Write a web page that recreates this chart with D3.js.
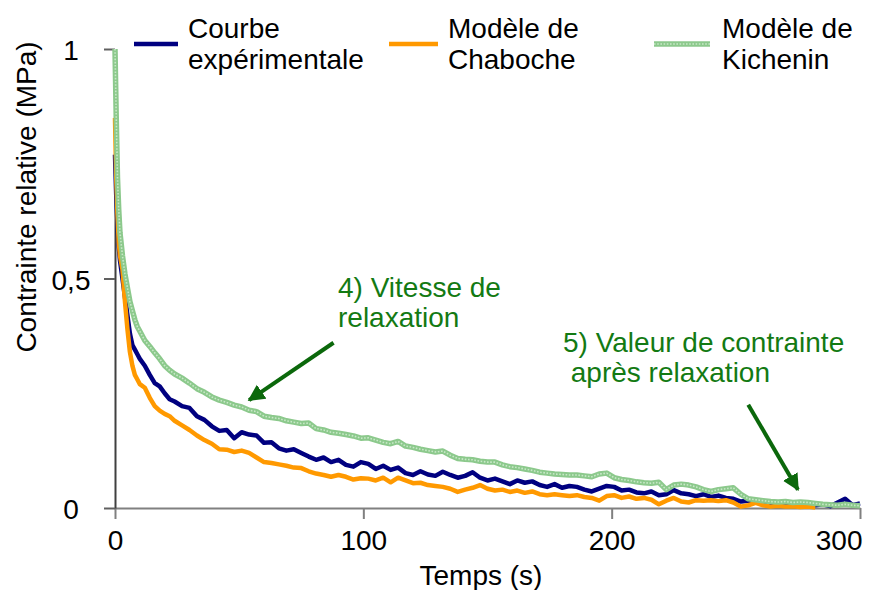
<!DOCTYPE html>
<html>
<head>
<meta charset="utf-8">
<script src="https://cdn.jsdelivr.net/npm/d3@7"></script>
<style>
  html, body { margin: 0; padding: 0; background: #fff; }
  svg { display: block; font-family: "Liberation Sans", Arial, sans-serif; }
</style>
</head>
<body>
<svg id="chart" width="877" height="590"></svg>
<script>
// Relaxation test: relative stress versus time, measured curve and two models
const times = [0, 0.5, 1, 1.5, 2, 3, 4, 5, 6, 7, 8, 9, 10, 12, 14, 16, 18, 20, 22, 24,
  27, 30, 33, 36, 39, 42, 45, 48, 51, 54, 57, 60, 63, 66, 69, 72, 75, 78, 81, 84,
  87, 90, 93, 96, 99, 102, 105, 108, 111, 114, 117, 120, 123, 126, 129, 132, 135, 138, 141, 144,
  147, 150, 153, 156, 159, 162, 165, 168, 171, 174, 177, 180, 183, 186, 189, 192, 195, 198, 201, 204,
  207, 210, 213, 216, 219, 222, 225, 228, 231, 234, 237, 240, 243, 246, 249, 252, 255, 258, 261, 264,
  267, 270, 273, 276, 279, 282, 285, 288, 291, 294, 297, 300];

const experimental = [0.77, 0.68, 0.62, 0.57, 0.54, 0.50, 0.46, 0.42, 0.38, 0.355, 0.345, 0.335, 0.325, 0.31, 0.29, 0.272, 0.265, 0.25, 0.237, 0.232,
  0.222, 0.218, 0.20, 0.192, 0.178, 0.168, 0.17, 0.152, 0.165, 0.16, 0.158, 0.142, 0.143, 0.13, 0.125, 0.128, 0.12, 0.112, 0.105, 0.11,
  0.10, 0.105, 0.094, 0.09, 0.10, 0.096, 0.085, 0.092, 0.083, 0.088, 0.076, 0.072, 0.08, 0.073, 0.07, 0.079, 0.072, 0.066, 0.07, 0.078,
  0.066, 0.06, 0.064, 0.058, 0.052, 0.06, 0.055, 0.058, 0.05, 0.046, 0.052, 0.044, 0.048, 0.046, 0.04, 0.036, 0.042, 0.048, 0.046, 0.038,
  0.04, 0.034, 0.032, 0.036, 0.028, 0.03, 0.039, 0.032, 0.03, 0.026, 0.03, 0.024, 0.027, 0.022, 0.02, 0.014, 0.016, 0.012, 0.014, 0.01,
  0.012, 0.008, 0.012, 0.01, 0.009, 0.006, 0.008, 0.004, 0.012, 0.02, 0.006, 0.01];

const chaboche = [0.85, 0.72, 0.64, 0.58, 0.55, 0.52, 0.45, 0.39, 0.34, 0.31, 0.29, 0.28, 0.27, 0.262, 0.24, 0.222, 0.212, 0.205, 0.20, 0.19,
  0.18, 0.17, 0.158, 0.148, 0.14, 0.128, 0.127, 0.122, 0.125, 0.12, 0.11, 0.10, 0.098, 0.095, 0.092, 0.088, 0.087, 0.08, 0.075, 0.072,
  0.068, 0.072, 0.068, 0.062, 0.065, 0.064, 0.06, 0.066, 0.056, 0.066, 0.06, 0.054, 0.055, 0.05, 0.048, 0.046, 0.042, 0.035, 0.04, 0.044,
  0.05, 0.042, 0.038, 0.04, 0.035, 0.038, 0.033, 0.036, 0.03, 0.028, 0.03, 0.028, 0.026, 0.028, 0.024, 0.022, 0.016, 0.026, 0.028, 0.022,
  0.025, 0.02, 0.022, 0.018, 0.008, 0.016, 0.022, 0.014, 0.012, 0.017, 0.016, 0.017, 0.015, 0.017, 0.012, 0.003, 0.006, 0.011, 0.006, 0.003,
  0.005, 0.003, 0.004, 0.002, 0.003, 0.001, null, null, null, null, null, null];

const kichenin = [1.0, 0.85, 0.72, 0.65, 0.60, 0.55, 0.51, 0.48, 0.45, 0.43, 0.41, 0.395, 0.385, 0.365, 0.352, 0.338, 0.325, 0.31, 0.30, 0.292,
  0.283, 0.272, 0.26, 0.252, 0.242, 0.235, 0.23, 0.224, 0.22, 0.213, 0.21, 0.20, 0.197, 0.195, 0.19, 0.187, 0.184, 0.185, 0.173, 0.17,
  0.165, 0.163, 0.16, 0.157, 0.152, 0.153, 0.148, 0.143, 0.14, 0.145, 0.135, 0.132, 0.128, 0.125, 0.122, 0.124, 0.115, 0.108, 0.106, 0.105,
  0.102, 0.10, 0.10, 0.094, 0.09, 0.088, 0.085, 0.082, 0.078, 0.076, 0.074, 0.073, 0.072, 0.072, 0.07, 0.068, 0.074, 0.076, 0.066, 0.062,
  0.06, 0.057, 0.055, 0.054, 0.056, 0.04, 0.05, 0.052, 0.05, 0.046, 0.04, 0.036, 0.04, 0.042, 0.044, 0.03, 0.02, 0.018, 0.016, 0.014,
  0.013, 0.014, 0.012, 0.013, 0.012, 0.01, 0.008, 0.007, 0.006, 0.008, 0.006, 0.005];

const seriesNames = ["Courbe expérimentale", "Modèle de Chaboche", "Modèle de Kichenin"];
const xTicks = [0, 100, 200, 300];
const yTicks = [0, 0.5, 1];
const yTickLabels = ["0", "0,5", "1"];
const xTitle = "Temps (s)";
const yTitle = "Contrainte relative (MPa)";
const notes = [
  { lines: ["4) Vitesse de", "relaxation"], at: [54, 0.235], from: [88, 0.36] },
  { lines: ["5) Valeur de contrainte", " après relaxation"], at: [275, 0.04], from: [255, 0.225] }
];

const svg = d3.select("#chart");
const x = d3.scaleLinear().domain([0, 300]).range([115, 860]);
const y = d3.scaleLinear().domain([0, 1]).range([508, 49]);
const font = 28;

// axes
const gx = svg.append("g").attr("transform", `translate(0,${y(0)})`)
  .call(d3.axisBottom(x).tickValues(xTicks).tickSize(11).tickSizeOuter(0).tickFormat(d3.format("d")));
gx.select(".domain").attr("stroke", "#808080").attr("stroke-width", 2);
gx.selectAll(".tick line").attr("stroke", "#808080").attr("stroke-width", 2);
gx.selectAll(".tick text").attr("font-size", font).attr("fill", "#000")
  .attr("font-family", "Liberation Sans, Arial, sans-serif").attr("y", 22).attr("dy", "0.71em");
// the last label is kept inside the chart area
gx.selectAll(".tick text").filter(d => d === 300).attr("text-anchor", "end").attr("x", 2);

const gy = svg.append("g").attr("transform", `translate(${x(0)},0)`)
  .call(d3.axisLeft(y).tickValues(yTicks).tickSize(11).tickSizeOuter(0)
    .tickFormat((d, i) => yTickLabels[i]));
gy.select(".domain").attr("stroke", "#404040").attr("stroke-width", 2);
gy.selectAll(".tick line").attr("stroke", "#606060").attr("stroke-width", 2);
gy.selectAll(".tick text").attr("font-size", font).attr("fill", "#000")
  .attr("font-family", "Liberation Sans, Arial, sans-serif")
  .attr("text-anchor", "middle").attr("x", 71 - x(0)).attr("dy", "0.38em");

// axis titles
svg.append("text").attr("x", 481).attr("y", 585).attr("text-anchor", "middle")
  .attr("font-size", font).text(xTitle);
svg.append("text").attr("transform", "translate(36,197) rotate(-90)")
  .attr("text-anchor", "middle").attr("font-size", font).text(yTitle);

// series
const data = [experimental, chaboche, kichenin].map(vals =>
  times.map((t, i) => ({ t, v: vals[i] })));
const line = d3.line().defined(d => d.v !== null).x(d => x(d.t)).y(d => y(d.v));

const styles = [
  [{ stroke: "#000080", width: 4.5 }],
  [{ stroke: "#ff9900", width: 4.5 }],
  [{ stroke: "#8cc98c", width: 5.5 }, { stroke: "#c8e8c8", width: 1.6, dash: "1.6,1.6" }]
];

data.forEach((d, i) => {
  styles[i].forEach(s => {
    svg.append("path").datum(d).attr("d", line).attr("fill", "none")
      .attr("stroke", s.stroke).attr("stroke-width", s.width)
      .attr("stroke-linejoin", "round")
      .attr("stroke-dasharray", s.dash || null);
  });
});

// legend
const legendX = [[134, 178, 188], [389, 438, 448], [654, 710, 722]];
seriesNames.forEach((name, i) => {
  const [x1, x2, tx] = legendX[i];
  styles[i].forEach(s => {
    svg.append("line").attr("x1", x1).attr("x2", x2).attr("y1", 44).attr("y2", 44)
      .attr("stroke", s.stroke).attr("stroke-width", s.width)
      .attr("stroke-dasharray", s.dash || null);
  });
  const words = name.split(" ");
  const first = words.length === 3 ? words.slice(0, 2).join(" ") : words[0];
  const second = words.length === 3 ? words[2] : words[1];
  const t = svg.append("text").attr("font-size", font);
  t.append("tspan").attr("x", tx).attr("y", 38).text(first);
  t.append("tspan").attr("x", tx).attr("y", 69).text(second);
});

// annotations with arrows
const green = "#137a13";
const arrowGreen = "#0b680b";
svg.append("defs").append("marker").attr("id", "head")
  .attr("viewBox", "0 0 10 10").attr("refX", 9).attr("refY", 5)
  .attr("markerWidth", 4.2).attr("markerHeight", 4.6).attr("orient", "auto")
  .attr("markerUnits", "strokeWidth")
  .append("path").attr("d", "M0,0 L10,5 L0,10 Z").attr("fill", arrowGreen);

const textPos = [[338, 297, 338, 327], [563, 352, 563, 382]];
notes.forEach((n, i) => {
  const [ax, ay, bx, by] = textPos[i];
  const t = svg.append("text").attr("font-size", font).attr("fill", green)
    .attr("xml:space", "preserve").style("white-space", "pre");
  t.append("tspan").attr("x", ax).attr("y", ay).text(n.lines[0]);
  t.append("tspan").attr("x", bx).attr("y", by).text(n.lines[1]);
  svg.append("line")
    .attr("x1", x(n.from[0])).attr("y1", y(n.from[1]))
    .attr("x2", x(n.at[0])).attr("y2", y(n.at[1]))
    .attr("stroke", arrowGreen).attr("stroke-width", 4)
    .attr("marker-end", "url(#head)");
});
</script>
</body>
</html>
